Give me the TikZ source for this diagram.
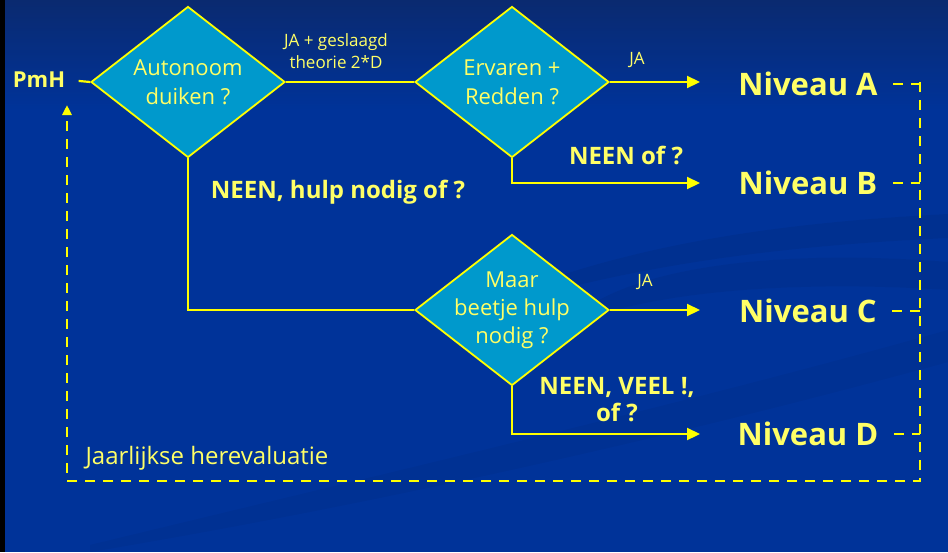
\documentclass[tikz,border=0pt]{standalone}
\usepackage{fontspec}
\setmainfont{Open Sans}
\usetikzlibrary{arrows.meta,shapes.geometric,positioning}
\definecolor{slidebg}{HTML}{003399}
\definecolor{slidetop}{HTML}{0A2A70}
\definecolor{lineyellow}{HTML}{FFFF00}
\definecolor{textyellow}{HTML}{FFFF66}
\definecolor{decisionblue}{HTML}{0099CC}
\tikzstyle{decision} = [diamond, aspect=1.28, inner sep=-12pt, minimum width=194pt, minimum height=151pt, draw=lineyellow, fill=decisionblue, line width=1.8pt, text=textyellow, align=center, font=\fontsize{22}{29}\selectfont]
\tikzstyle{level} = [text=textyellow, font=\fontsize{31}{36}\selectfont\bfseries]
\tikzstyle{flow} = [line width=2.2pt, color=lineyellow]
\tikzstyle{arrow} = [flow, -{Triangle[length=13pt,width=12pt]}]
\tikzstyle{loop} = [line width=2.5pt, color=lineyellow, dash pattern=on 10pt off 8pt]
\tikzstyle{answer} = [text=textyellow, align=center, font=\fontsize{24}{27}\selectfont\bfseries]
\tikzstyle{note} = [text=textyellow, align=center, font=\fontsize{17}{22}\selectfont]

\begin{document}
\begin{tikzpicture}[x=1pt, y=-1pt]
% Slide background
\useasboundingbox (0,0) rectangle (948,552);
\fill[slidebg] (0,0) rectangle (948,552);
\shade[top color=slidetop, bottom color=slidebg] (0,0) rectangle (948,110);
\fill[black, opacity=0.06] (430,330) .. controls (600,240) and (800,222) .. (948,214) -- (948,238) .. controls (800,245) and (610,262) .. (430,330) -- cycle;
\fill[black, opacity=0.05] (560,330) .. controls (620,260) and (800,250) .. (948,262) -- (948,290) .. controls (800,280) and (640,290) .. (560,330) -- cycle;
\fill[black, opacity=0.04] (90,545) .. controls (400,470) and (700,400) .. (948,330) -- (948,362) .. controls (700,430) and (400,500) .. (90,552) -- cycle;
\fill[black] (0,0) rectangle (5,552);

% Decisions
\node (autonoom) [decision] at (188,82) {Autonoom\\duiken ?};
\node (ervaren) [decision] at (512,82) {Ervaren +\\Redden ?};
\node (maar) [decision, font=\fontsize{22}{28}\selectfont] at (512,310) {Maar\\beetje hulp\\nodig ?};

% Start and levels
\node (pmh) [text=textyellow, font=\fontsize{22}{26}\selectfont\bfseries] at (39,80) {PmH};
\node (niveauA) [level] at (808,84) {Niveau A};
\node (niveauB) [level] at (808,183) {Niveau B};
\node (niveauC) [level] at (808,311) {Niveau C};
\node (niveauD) [level] at (808,434) {Niveau D};

% Labels
\node (geslaagd) [note] at (336,51) {JA + geslaagd\\theorie 2*D};
\node (jaA) [note] at (637,60) {JA};
\node (neenB) [answer] at (626,155) {NEEN of ?};
\node (neenHulp) [answer] at (338,192) {NEEN, hulp nodig of ?};
\node (jaC) [note] at (645,282) {JA};
\node (neenVeel) [answer] at (617,400) {NEEN, VEEL !,\\of ?};

% Bends and loop corners
\coordinate (bendNeen) at (autonoom.south |- maar.west);
\coordinate (bendB) at (ervaren.south |- niveauB.west);
\coordinate (bendD) at (maar.south |- niveauD.west);
\coordinate (loopTR) at (920,82);
\coordinate (loopBR) at (920,481);
\coordinate (loopBL) at (67,481);
\coordinate (loopTL) at (67,105);

% Flow
\draw[flow, shorten <=10pt] (pmh.east) -- (autonoom.west);
\draw[flow] (autonoom.east) -- (ervaren.west);
\draw[arrow] (ervaren.east) -- (ervaren.east -| 700,0);
\draw[arrow] (ervaren.south) -- (bendB) -- (bendB -| 700,0);
\draw[flow] (autonoom.south) -- (bendNeen) -- (maar.west);
\draw[arrow] (maar.east) -- (maar.east -| 700,0);
\draw[arrow] (maar.south) -- (bendD) -- (bendD -| 700,0);

% Yearly re-evaluation loop
\draw[loop, shorten <=12pt] (niveauA.east) -- (niveauA.east -| loopTR);
\draw[loop, shorten <=12pt] (niveauB.east) -- (niveauB.east -| loopTR);
\draw[loop, shorten <=12pt] (niveauC.east) -- (niveauC.east -| loopTR);
\draw[loop, shorten <=12pt] (niveauD.east) -- (niveauD.east -| loopTR);
\draw[loop, -{Triangle[length=10pt,width=9pt]}] (loopTR) -- (loopBR) -- (loopBL) -- (loopTL);
\node (jaarlijks) [text=textyellow, font=\fontsize{24}{28}\selectfont, anchor=west] at (82,458) {Jaarlijkse herevaluatie};
\end{tikzpicture}
\end{document}
